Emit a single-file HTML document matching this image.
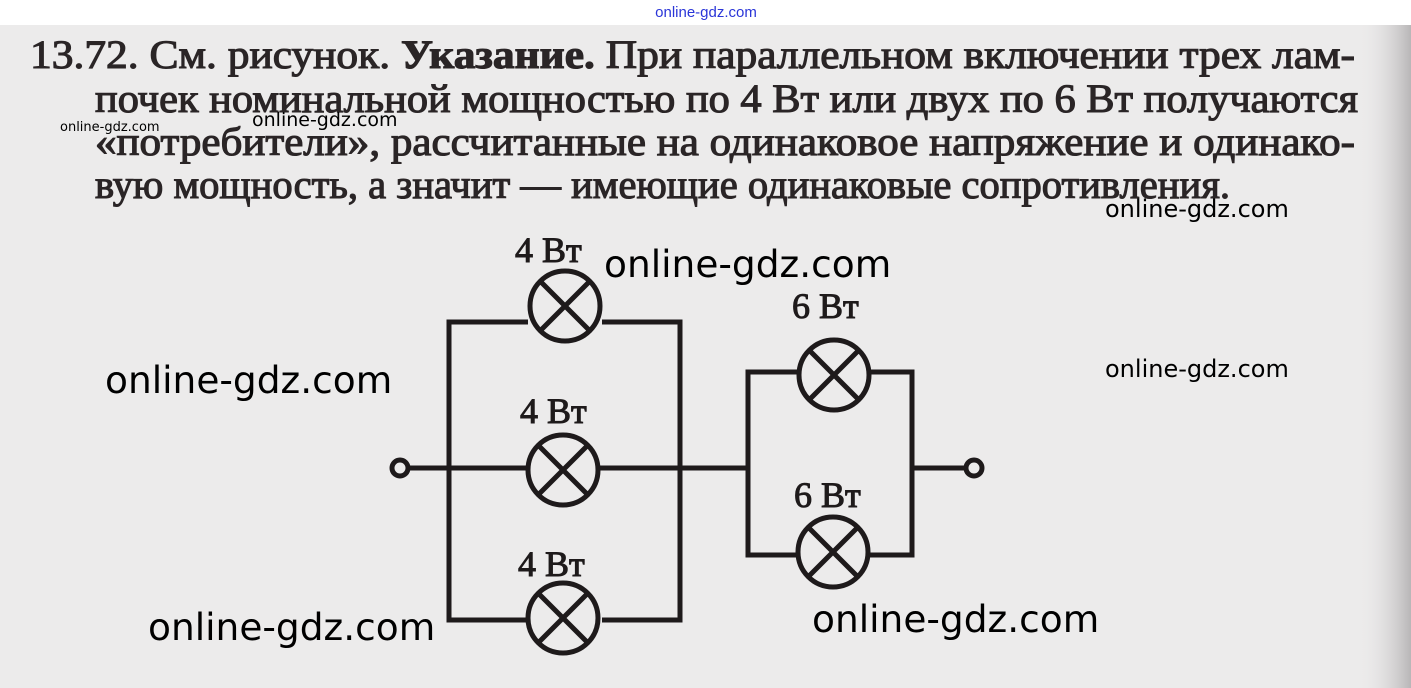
<!DOCTYPE html>
<html><head><meta charset="utf-8"><style>
html,body{margin:0;padding:0;background:#fff}
svg{display:block}
</style></head><body>
<svg width="1411" height="688" viewBox="0 0 1411 688" xmlns="http://www.w3.org/2000/svg">
<defs>
<linearGradient id="edge" x1="0" x2="1" y1="0" y2="0">
<stop offset="0" stop-color="#e9e7e8" stop-opacity="0"/>
<stop offset="1" stop-color="#b8b6b7"/>
</linearGradient>
</defs>
<rect x="0" y="0" width="1411" height="688" fill="#ecebeb"/>
<rect x="1360" y="25" width="51" height="663" fill="url(#edge)"/>
<rect x="0" y="0" width="1411" height="25" fill="#ffffff"/>
<text x="706" y="17" text-anchor="middle" font-family="Liberation Sans, sans-serif" font-size="15" fill="#2a35d8">online-gdz.com</text>

<g font-family="Liberation Serif, DejaVu Serif, serif" font-size="40" fill="#2a2526" stroke="#2a2526" stroke-width="1.1">
<text x="30" y="68" textLength="1325" lengthAdjust="spacingAndGlyphs">13.72. См. рисунок. <tspan font-weight="bold">Указание.</tspan> При параллельном включении трех лам-</text>
<text x="95" y="112" textLength="1263" lengthAdjust="spacingAndGlyphs">почек номинальной мощностью по 4 Вт или двух по 6 Вт получаются</text>
<text x="95" y="155" textLength="1260" lengthAdjust="spacingAndGlyphs">«потребители», рассчитанные на одинаковое напряжение и одинако-</text>
<text x="95" y="198" textLength="1135" lengthAdjust="spacingAndGlyphs">вую мощность, а значит — имеющие одинаковые сопротивления.</text>
</g>

<g stroke="#1e1a1b" stroke-width="5" fill="none">
<polyline points="528,322 449,322 449,620 528,620"/>
<polyline points="602,322 680,322 680,620 602,620"/>
<line x1="407" y1="468" x2="526" y2="468"/>
<line x1="600" y1="468" x2="748" y2="468"/>
<polyline points="797,372 748,372 748,555 796,555"/>
<polyline points="871,372 912,372 912,555 870,555"/>
<line x1="912" y1="468" x2="966" y2="468"/>
<circle cx="400" cy="468" r="8" fill="#ecebeb"/>
<circle cx="974" cy="468" r="8" fill="#ecebeb"/>
<circle cx="565" cy="306" r="35" fill="#ecebeb"/>
<line x1="540" y1="281" x2="590" y2="331"/><line x1="590" y1="281" x2="540" y2="331"/>
<circle cx="563" cy="470" r="35" fill="#ecebeb"/>
<line x1="538" y1="445" x2="588" y2="495"/><line x1="588" y1="445" x2="538" y2="495"/>
<circle cx="563" cy="618" r="35" fill="#ecebeb"/>
<line x1="538" y1="593" x2="588" y2="643"/><line x1="588" y1="593" x2="538" y2="643"/>
<circle cx="834" cy="375" r="35" fill="#ecebeb"/>
<line x1="809" y1="350" x2="859" y2="400"/><line x1="859" y1="350" x2="809" y2="400"/>
<circle cx="833" cy="552" r="35" fill="#ecebeb"/>
<line x1="808" y1="527" x2="858" y2="577"/><line x1="858" y1="527" x2="808" y2="577"/>
</g>

<g font-family="Liberation Serif, DejaVu Serif, serif" font-size="36" fill="#1e1a1b" stroke="#1e1a1b" stroke-width="1">
<text x="515" y="262">4 Вт</text>
<text x="520" y="423">4 Вт</text>
<text x="518" y="576">4 Вт</text>
<text x="792" y="318">6 Вт</text>
<text x="794" y="507">6 Вт</text>
</g>

<g font-family="DejaVu Sans, Liberation Sans, sans-serif" fill="#000">
<text x="60" y="131" font-size="13">online-gdz.com</text>
<text x="252" y="126" font-size="19">online-gdz.com</text>
<text x="1105" y="217" font-size="24">online-gdz.com</text>
<text x="1105" y="377" font-size="24">online-gdz.com</text>
<text x="604" y="277" font-size="37.5">online-gdz.com</text>
<text x="105" y="393" font-size="37.5">online-gdz.com</text>
<text x="148" y="640" font-size="37.5">online-gdz.com</text>
<text x="812" y="632" font-size="37.5">online-gdz.com</text>
</g>
</svg>
</body></html>
